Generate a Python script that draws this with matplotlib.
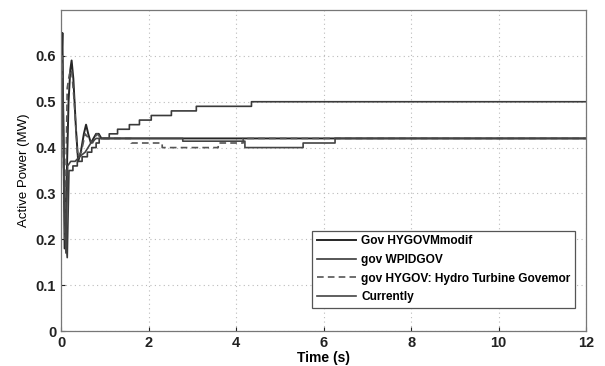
import matplotlib
matplotlib.use("Agg")
import matplotlib.pyplot as plt
import numpy as np

plt.rcParams['font.family'] = ['Liberation Sans', 'DejaVu Sans']

# Each series: a smooth transient (linear segments) followed by a staircase (steps-post)
# Gov HYGOVMmodif
mod_tr_t = [0.0, 0.01, 0.03, 0.05, 0.08, 0.12, 0.17, 0.21, 0.24, 0.28, 0.34, 0.39, 0.45, 0.52, 0.57, 0.62, 0.68, 0.74, 0.80, 0.86, 0.92, 1.00]
mod_tr_p = [0.50, 0.58, 0.65, 0.45, 0.18, 0.30, 0.50, 0.57, 0.59, 0.55, 0.44, 0.37, 0.39, 0.43, 0.45, 0.43, 0.41, 0.42, 0.43, 0.43, 0.42, 0.42]
mod_st_t = [1.00, 12.0]
mod_st_p = [0.42, 0.42]

# gov WPIDGOV
wp_tr_t = [0.0, 0.03, 0.07, 0.11, 0.14, 0.18]
wp_tr_p = [0.50, 0.60, 0.35, 0.20, 0.16, 0.35]
wp_st_t = [0.18, 0.27, 0.37, 0.48, 0.60, 0.70, 0.80, 0.87, 1.10, 1.29, 1.56, 1.79, 2.06, 2.52, 3.09, 4.35, 12.0]
wp_st_p = [0.35, 0.36, 0.37, 0.38, 0.39, 0.40, 0.41, 0.42, 0.43, 0.44, 0.45, 0.46, 0.47, 0.48, 0.49, 0.50, 0.50]

# gov HYGOV: Hydro Turbine Govemor (dashed)
hy_tr_t = [0.0, 0.02, 0.05, 0.09, 0.14, 0.19, 0.24, 0.30, 0.38, 0.46, 0.55, 0.63, 0.72, 0.82, 0.92, 1.05]
hy_tr_p = [0.50, 0.60, 0.40, 0.20, 0.53, 0.56, 0.57, 0.50, 0.38, 0.39, 0.43, 0.42, 0.41, 0.43, 0.42, 0.42]
hy_st_t = [1.05, 1.60, 2.31, 3.59, 4.16, 12.0]
hy_st_p = [0.42, 0.41, 0.40, 0.41, 0.42, 0.42]

# Currently
cu_tr_t = [0.0, 0.03, 0.07, 0.11, 0.15, 0.22, 0.32, 0.42, 0.55, 0.68, 0.80, 0.92, 1.05]
cu_tr_p = [0.50, 0.55, 0.30, 0.17, 0.36, 0.37, 0.37, 0.38, 0.39, 0.41, 0.42, 0.42, 0.42]
cu_st_t = [1.05, 2.78, 4.20, 5.53, 6.26, 12.0]
cu_st_p = [0.42, 0.414, 0.40, 0.41, 0.42, 0.42]

x_ticks = [0, 2, 4, 6, 8, 10, 12]
y_ticks = [0, 0.1, 0.2, 0.3, 0.4, 0.5, 0.6]
y_tick_labels = ['0', '0.1', '0.2', '0.3', '0.4', '0.5', '0.6']


def build(tr_t, tr_p, st_t, st_p):
    xs, ys = list(tr_t), list(tr_p)
    for i in range(1, len(st_t)):
        xs += [st_t[i], st_t[i]]
        ys += [st_p[i - 1], st_p[i]]
    return np.array(xs), np.array(ys)


fig = plt.figure(figsize=(6.05, 3.66), dpi=100)
ax = fig.add_axes([0.101, 0.0956, 0.868, 0.877])

x, y = build(mod_tr_t, mod_tr_p, mod_st_t, mod_st_p)
ax.plot(x, y, color='#262626', lw=1.4, label='Gov HYGOVMmodif')
x, y = build(wp_tr_t, wp_tr_p, wp_st_t, wp_st_p)
ax.plot(x, y, color='#3a3a3a', lw=1.2, label='gov WPIDGOV')
x, y = build(hy_tr_t, hy_tr_p, hy_st_t, hy_st_p)
ax.plot(x, y, color='#555555', lw=1.2, ls=(0, (4, 2.5)),
        label='gov HYGOV: Hydro Turbine Govemor')
x, y = build(cu_tr_t, cu_tr_p, cu_st_t, cu_st_p)
ax.plot(x, y, color='#444444', lw=1.2, label='Currently')

ax.set_xlim(0, 12)
ax.set_ylim(0, 0.7)
ax.set_xticks(x_ticks)
ax.set_yticks(y_ticks)
ax.set_yticklabels(y_tick_labels)
ax.tick_params(direction='in', labelsize=10.5, length=3, colors='#222222')
for lab in ax.get_xticklabels() + ax.get_yticklabels():
    lab.set_fontweight('bold')
ax.grid(True, ls=(0, (1, 3)), color='#bbbbbb', lw=0.8)
for s in ax.spines.values():
    s.set_color('#777777')
    s.set_linewidth(0.9)

ax.set_xlabel('Time (s)', fontsize=10, fontweight='bold', labelpad=1)
ax.set_ylabel('Active Power (MW)', fontsize=9.5, labelpad=4)

leg = ax.legend(loc='lower right', bbox_to_anchor=(0.979, 0.072), fontsize=8.6,
                fancybox=False, framealpha=1, edgecolor='#555555',
                handlelength=3.3, labelspacing=0.55, borderpad=0.4,
                handletextpad=0.4, borderaxespad=0)
leg.get_frame().set_linewidth(0.9)
for txt in leg.get_texts():
    txt.set_fontweight('bold')

fig.savefig('out.png', dpi=100)
